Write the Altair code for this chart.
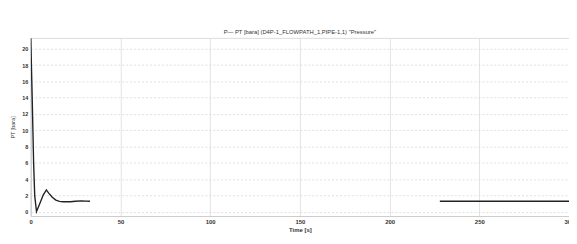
import altair as alt
import pandas as pd

# Segment 1 (start transient)
t1 = [0, 0.8, 1.6, 2.2, 3.2, 5, 7, 8.7, 10, 12, 14, 16, 18, 22, 25, 28, 31, 33]
p1 = [21.3, 14, 6, 2, 0.05, 1.0, 2.1, 2.7, 2.3, 1.8, 1.45, 1.3, 1.25, 1.25, 1.3, 1.35, 1.33, 1.3]
# Segment 2 (late steady state)
t2 = [228, 240, 260, 280, 300]
p2 = [1.3, 1.3, 1.3, 1.3, 1.3]

x_ticks = [0, 50, 100, 150, 200, 250, 300]
y_ticks = [0, 2, 4, 6, 8, 10, 12, 14, 16, 18, 20]

title_text = 'P— PT [bara] (D4P-1_FLOWPATH_1,PIPE-1,1) "Pressure"'

df = pd.DataFrame({
    "t": t1 + t2,
    "p": p1 + p2,
    "seg": ["a"] * len(t1) + ["b"] * len(t2),
})

base = alt.Chart(df)

line = base.mark_line(color="#222222", strokeWidth=1.4, clip=True).encode(
    x=alt.X("t:Q", scale=alt.Scale(domain=[0, 300], nice=False),
            axis=alt.Axis(values=x_ticks, title="Time [s]", grid=True,
                          gridColor="#dcdcdc", gridWidth=0.8,
                          labelFontSize=6, labelColor="#333", labelFontWeight="bold",
                          titleFontSize=6, titleColor="#333", titleFontWeight="bold",
                          titlePadding=2, labelPadding=3,
                          tickSize=0, domainColor="#cccccc", labelFlush=False)),
    y=alt.Y("p:Q", scale=alt.Scale(domain=[-0.5, 21.33], nice=False, zero=False),
            axis=alt.Axis(values=y_ticks, title="PT [bara]", grid=True,
                          gridColor="#d8d8d8", gridDash=[2, 2], gridWidth=0.8,
                          labelFontSize=5.5, labelColor="#333", labelFontWeight="bold",
                          titleFontSize=5.5, titleColor="#333", titleFontWeight="normal",
                          titlePadding=6, labelPadding=3,
                          tickSize=0, domainColor="#cccccc")),
    detail="seg:N",
)

chart = line.properties(
    width=544,
    height=180,
    title=alt.TitleParams(title_text, fontSize=5.9, color="#333", fontWeight="normal",
                          offset=3, anchor="middle"),
    autosize=alt.AutoSizeParams(type="none"),
    padding={"left": 23, "top": 29, "right": 0, "bottom": 20},
).configure_view(stroke="#cccccc", strokeWidth=0.8).configure(background="white")

chart.save("out.html", embed_options={"renderer": "svg", "actions": False})
